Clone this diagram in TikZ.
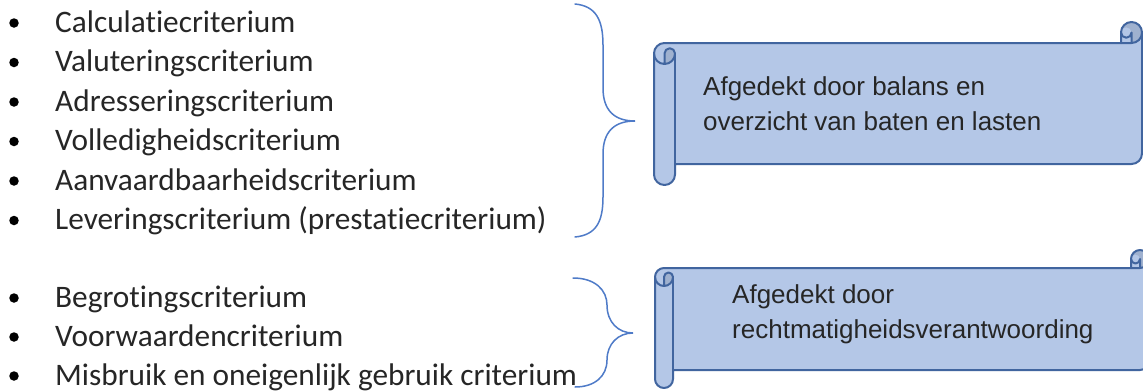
\documentclass[tikz,border=0pt]{standalone}
\usepackage{fontspec}
\newfontfamily\listfont[Ligatures=CommonOff]{Carlito}
\newfontfamily\scrollfont{Liberation Sans}
\definecolor{scrollfill}{HTML}{B4C7E7}
\definecolor{scrolldark}{HTML}{9FB1CF}
\definecolor{scrollline}{HTML}{41659F}
\definecolor{bracecol}{HTML}{4F7BC8}
\definecolor{listtext}{HTML}{262626}
\newcommand\scrollshape[5]{%
 \begin{scope}[shift={(#1,#2)}]
 \pgfmathsetmacro\scW{#3}\pgfmathsetmacro\scH{#4}\pgfmathsetmacro\scC{#5}%
 \pgfmathsetmacro\scCa{\scC/2}\pgfmathsetmacro\scCb{\scC/4}%
 \pgfmathsetmacro\scYt{1.5*\scC}\pgfmathsetmacro\scYf{2*\scC}%
 \pgfmathsetmacro\scYs{\scH-\scC}\pgfmathsetmacro\scYv{\scH-\scCa}\pgfmathsetmacro\scYw{\scYs-\scCa}%
 \pgfmathsetmacro\scXt{\scW-\scC}\pgfmathsetmacro\scXf{\scW-\scCa}%
 \fill[scrollfill] (0,\scYt) arc[start angle=180,delta angle=90,radius=\scCa] -- (\scXt,\scC) -- (\scXt,\scCa)
   arc[start angle=180,delta angle=180,radius=\scCa] -- (\scW,\scYw)
   arc[start angle=0,delta angle=90,radius=\scCa] -- (\scC,\scYs) -- (\scC,\scYv)
   arc[start angle=0,delta angle=180,radius=\scCa] -- cycle;
 \fill[scrolldark] (\scCa,\scYf) arc[start angle=90,delta angle=-90,radius=\scCa]
   arc[start angle=0,delta angle=-180,radius=\scCb] -- cycle;
 \fill[scrolldark] (\scXf,\scC) arc[start angle=90,delta angle=-270,radius=\scCa]
   arc[start angle=180,delta angle=180,radius=\scCb] -- cycle;
 \draw[scrollstroke] (0,\scYt) arc[start angle=180,delta angle=90,radius=\scCa] -- (\scXt,\scC) -- (\scXt,\scCa)
   arc[start angle=180,delta angle=180,radius=\scCa] -- (\scW,\scYw)
   arc[start angle=0,delta angle=90,radius=\scCa] -- (\scC,\scYs) -- (\scC,\scYv)
   arc[start angle=0,delta angle=180,radius=\scCa] -- cycle;
 \draw[scrollstroke] (\scXt,\scC) -- (\scXf,\scC) arc[start angle=90,delta angle=-90,radius=\scCa];
 \draw[scrollstroke] (\scXf,\scC) -- (\scXf,\scCa) arc[start angle=0,delta angle=180,radius=\scCb];
 \draw[scrollstroke] (\scCa,\scYf) -- (\scCa,\scYt) arc[start angle=180,delta angle=180,radius=\scCb]
   arc[start angle=0,delta angle=180,radius=\scCa];
 \draw[scrollstroke] (\scC,\scYt) -- (\scC,\scYs);
 \end{scope}}
\begin{document}
\begin{tikzpicture}[x=1pt,y=-1pt,
  scrollstroke/.style={draw=scrollline,line width=2pt,line join=round},
  bracestyle/.style={draw=bracecol,line width=1.5pt,line cap=round},
  bulletdot/.style={circle,fill=black,inner sep=0pt,minimum size=9.5pt},
  listitem/.style={anchor=base west,inner sep=0pt,text=listtext,font=\listfont\fontsize{31.3}{36}\selectfont},
  scrolltext/.style={anchor=base west,inner sep=0pt,text=black!85,font=\scrollfont\fontsize{26}{35}\selectfont}]
\useasboundingbox (0,0) rectangle (1143,391);
\clip (0,0) rectangle (1143,391);
\fill[white] (0,0) rectangle (1143,391);
% list group 1
\foreach \i/\t in {0/Calculatiecriterium,1/Valuteringscriterium,2/Adresseringscriterium,3/Volledigheidscriterium,4/Aanvaardbaarheidscriterium,5/Leveringscriterium (prestatiecriterium)}{
  \node[bulletdot] (b\i) at (14,{23+39.5*\i}) {};
  \node[listitem] (l\i) at (55,{32+39.5*\i}) {\t};
}
% list group 2
\foreach \i/\t in {6/Begrotingscriterium,7/Voorwaardencriterium,8/Misbruik en oneigenlijk gebruik criterium}{
  \node[bulletdot] (b\i) at (14,{298+39*(\i-6)}) {};
  \node[listitem] (l\i) at (55,{307+39*(\i-6)}) {\t};
}
% braces
\coordinate (br1top) at (575,4);
\coordinate (br1tip) at (635,121);
\coordinate (br1bot) at (575,237);
\draw[bracestyle] (br1top) .. controls (596,6) and (603,20) .. (603,45) -- (603,88)
  .. controls (603,110) and (614,121) .. (br1tip)
  .. controls (614,121) and (603,132) .. (603,154) -- (603,197)
  .. controls (603,222) and (596,235) .. (br1bot);
\coordinate (br2top) at (573,278);
\coordinate (br2tip) at (633,333);
\coordinate (br2bot) at (575,387);
\draw[bracestyle] (br2top) .. controls (595,278) and (607,290) .. (607,305)
  .. controls (607,322) and (618,333) .. (br2tip)
  .. controls (618,333) and (607,344) .. (607,360)
  .. controls (607,376) and (595,387) .. (br2bot);
% scrolls
\scrollshape{654}{22}{488}{163}{21}
\scrollshape{655}{250}{494}{138}{18}
\node[scrolltext] (s1a) at (703,95) {Afgedekt door balans en};
\node[scrolltext] (s1b) at (703,130) {overzicht van baten en lasten};
\node[scrolltext] (s2a) at (732,303) {Afgedekt door};
\node[scrolltext] (s2b) at (732,338) {rechtmatigheidsverantwoording};
\end{tikzpicture}
\end{document}
